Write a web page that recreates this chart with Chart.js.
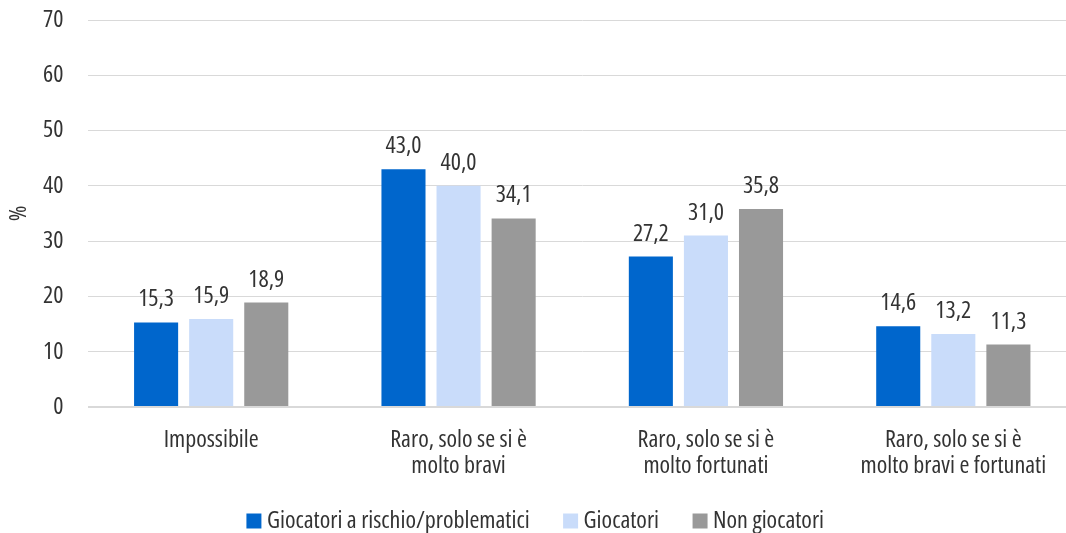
<!DOCTYPE html>
<html>
<head>
<meta charset="utf-8">
<script src="https://cdn.jsdelivr.net/npm/chart.js@4/dist/chart.umd.min.js"></script>
<style>
html,body{margin:0;padding:0;background:#fff;overflow:hidden;}
canvas{display:block;}
</style>
</head>
<body>
<canvas id="c" width="1077" height="533"></canvas>
<script>
const categories = [
  ["Impossibile"],
  ["Raro, solo se si è", "molto bravi"],
  ["Raro, solo se si è", "molto fortunati"],
  ["Raro, solo se si è", "molto bravi e fortunati"]
];
const seriesNames = ["Giocatori a rischio/problematici", "Giocatori", "Non giocatori"];
const valuesRischio = [15.3, 43.0, 27.2, 14.6];
const valuesGiocatori = [15.9, 40.0, 31.0, 13.2];
const valuesNonGiocatori = [18.9, 34.1, 35.8, 11.3];
const yTicks = [0, 10, 20, 30, 40, 50, 60, 70];
const colors = ["#0066CC", "#C9DCFA", "#999999"];

const FAMILY = "'Open Sans', 'Roboto Condensed', sans-serif";
const STRETCH = "condensed";
const FSIZE = 24;
const TXT = "#333333";
const LEG_PAD = 40;
const mkFont = (extra) => Object.assign({ family: FAMILY, size: FSIZE, weight: STRETCH }, extra || {});

const valueLabels = {
  id: 'valueLabels',
  afterDatasetsDraw(chart) {
    const ctx = chart.ctx;
    ctx.save();
    ctx.font = STRETCH + " " + FSIZE + "px " + FAMILY;
    ctx.fillStyle = TXT;
    ctx.textAlign = 'center';
    ctx.textBaseline = 'alphabetic';
    chart.data.datasets.forEach((ds, i) => {
      const meta = chart.getDatasetMeta(i);
      meta.data.forEach((bar, j) => {
        const v = ds.data[j];
        ctx.fillText(v.toFixed(1).replace('.', ','), bar.x, bar.y - 16);
      });
    });
    ctx.restore();
  }
};

new Chart(document.getElementById('c'), {
  type: 'bar',
  data: {
    labels: categories,
    datasets: [
      { label: seriesNames[0], data: valuesRischio, backgroundColor: colors[0], borderWidth: 0 },
      { label: seriesNames[1], data: valuesGiocatori, backgroundColor: colors[1], borderWidth: 0 },
      { label: seriesNames[2], data: valuesNonGiocatori, backgroundColor: colors[2], borderWidth: 0 }
    ]
  },
  options: {
    responsive: false,
    animation: false,
    datasets: { bar: { categoryPercentage: 0.668, barPercentage: 0.8 } },
    layout: { padding: { top: 20, right: 0, left: 0, bottom: -10 } },
    plugins: {
      tooltip: { enabled: false },
      legend: {
        position: 'bottom',
        labels: {
          usePointStyle: true,
          pointStyle: 'rect',
          boxWidth: 2,
          boxHeight: 15,
          padding: LEG_PAD,
          color: TXT,
          font: mkFont()
        }
      }
    },
    scales: {
      x: {
        grid: { display: false, drawTicks: false },
        border: { display: false },
        ticks: {
          color: TXT,
          padding: 20,
          maxRotation: 0,
          autoSkip: false,
          font: mkFont({ lineHeight: 1.1 })
        },
        afterFit(s) {
          s.height = 102 - LEG_PAD;
          s._computeLabelArea = () => undefined;
        }
      },
      y: {
        min: 0, max: 70,
        border: { display: false },
        afterBuildTicks(s) { s.ticks = yTicks.map(v => ({ value: v })); },
        grid: {
          drawTicks: true,
          tickLength: 24,
          tickColor: 'rgba(0,0,0,0)',
          color: '#D9D9D9',
          lineWidth: (c) => (c.tick && c.tick.value === 0 ? 2 : 1)
        },
        ticks: {
          padding: 0,
          color: TXT,
          font: mkFont()
        },
        title: {
          display: true,
          text: '%',
          color: TXT,
          padding: { top: 5, bottom: 0 },
          font: mkFont()
        },
        afterFit(s) { s.width = 87.5; }
      }
    }
  },
  plugins: [valueLabels]
});
</script>
</body>
</html>
